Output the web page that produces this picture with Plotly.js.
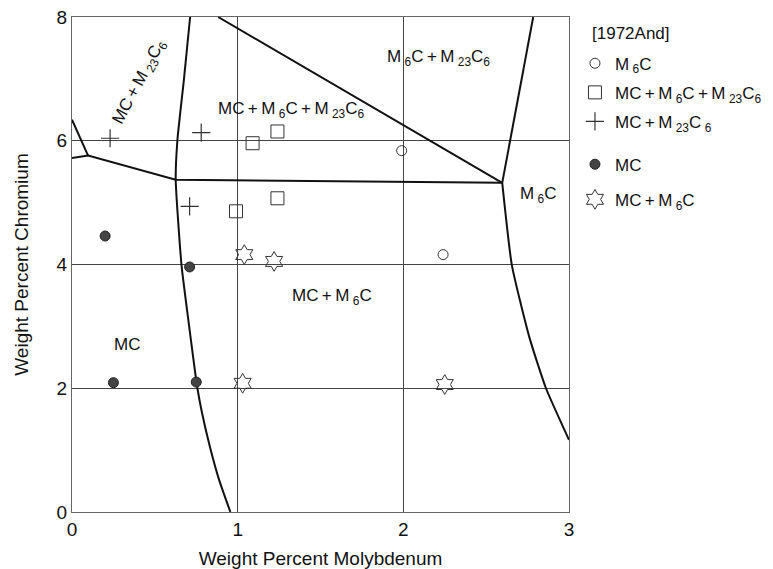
<!DOCTYPE html>
<html>
<head>
<meta charset="utf-8">
<script src="https://cdn.plot.ly/plotly-3.0.1.min.js"></script>
<style>
html,body{margin:0;padding:0;background:#fff;}
#chart{width:773px;height:569px;}
</style>
</head>
<body>
<div id="chart"></div>
<script>
// ---- data (Mo wt%, Cr wt%) ----
const m6cX = [1.99, 2.24];
const m6cY = [5.84, 4.16];
const tripleX = [1.09, 1.24, 0.99, 1.24];
const tripleY = [5.96, 6.15, 4.86, 5.07];
const mcM23X = [0.23, 0.78, 0.71];
const mcM23Y = [6.04, 6.13, 4.94];
const mcX = [0.20, 0.71, 0.25, 0.75];
const mcY = [4.46, 3.96, 2.09, 2.10];
const mcM6X = [1.04, 1.22, 1.03, 2.25];
const mcM6Y = [4.16, 4.05, 2.08, 2.06];

// phase boundaries
const leftCurveX = [0.713, 0.676, 0.636, 0.626, 0.661, 0.700, 0.757, 0.785, 0.832, 0.888, 0.956];
const leftCurveY = [8.0, 7.0, 6.0, 5.37, 3.99, 3.15, 2.0, 1.60, 1.06, 0.52, 0.0];
const midLineX = [0.0, 0.097, 0.626, 2.597];
const midLineY = [5.72, 5.76, 5.37, 5.32];
const cornerLineX = [0.0, 0.097];
const cornerLineY = [6.34, 5.76];
const diagLineX = [0.882, 2.597];
const diagLineY = [8.0, 5.32];
const rightLineX = [2.784, 2.597];
const rightLineY = [8.0, 5.32];
const rightCurveX = [2.597, 2.655, 2.760, 2.861, 3.0];
const rightCurveY = [5.32, 3.99, 2.83, 2.0, 1.166];

// region labels (thin spaces mimic the original's loose lettering)
const regionText = [
  'MC\u2009+\u2009M\u2009<sub>23</sub>C<sub>6</sub>',
  'MC\u2009+\u2009M\u2009<sub>6</sub>C\u2009+\u2009M\u2009<sub>23</sub>C<sub>6</sub>',
  'M\u2009<sub>6</sub>C\u2009+\u2009M\u2009<sub>23</sub>C<sub>6</sub>',
  'M\u2009<sub>6</sub>C',
  'MC\u2009+\u2009M\u2009<sub>6</sub>C',
  'MC'];
const regionX = [0.41, 1.32, 2.21, 2.81, 1.57, 0.33];
const regionY = [6.95, 6.50, 7.33, 5.13, 3.47, 2.70];
const regionAngle = [-62, 0, 0, 0, 0, 0];

const legendTitle = '[1972And]';
const seriesNames = [
  'M\u2009<sub>6</sub>C',
  'MC\u2009+\u2009M\u2009<sub>6</sub>C\u2009+\u2009M\u2009<sub>23</sub>C<sub>6</sub>',
  'MC\u2009+\u2009M\u2009<sub>23</sub>C\u2009<sub>6</sub>',
  'MC',
  'MC\u2009+\u2009M\u2009<sub>6</sub>C'];

const FONT = 'Liberation Sans, Arial, sans-serif';
const lineStyle = {color: '#111', width: 2};
function boundary(x, y, smooth) {
  return {x: x, y: y, mode: 'lines', type: 'scatter',
          line: Object.assign({}, lineStyle, smooth ? {shape: 'spline', smoothing: 0.5} : {}),
          showlegend: false, hoverinfo: 'skip'};
}

const traces = [
  boundary(leftCurveX, leftCurveY, true),
  boundary(midLineX, midLineY, false),
  boundary(cornerLineX, cornerLineY, false),
  boundary(diagLineX, diagLineY, false),
  boundary(rightLineX, rightLineY, false),
  boundary(rightCurveX, rightCurveY, true),
  {x: m6cX, y: m6cY, name: seriesNames[0], mode: 'markers', type: 'scatter', legend: 'legend', legendgroup: 'a',
   marker: {symbol: 'circle-open', size: 10, color: '#333', line: {width: 1}}},
  {x: tripleX, y: tripleY, name: seriesNames[1], mode: 'markers', type: 'scatter', legend: 'legend', legendgroup: 'b',
   marker: {symbol: 'square-open', size: 13, color: '#333', line: {width: 1}}},
  {x: mcM23X, y: mcM23Y, name: seriesNames[2], mode: 'markers', type: 'scatter', legend: 'legend', legendgroup: 'c',
   marker: {symbol: 'cross-thin-open', size: 13, color: '#333', line: {width: 1.2, color: '#333'}}},
  {x: mcX, y: mcY, name: seriesNames[3], mode: 'markers', type: 'scatter', legend: 'legend2', legendgroup: 'd',
   marker: {symbol: 'circle', size: 10, color: '#444', line: {width: 1, color: '#222'}}},
  {x: mcM6X, y: mcM6Y, name: seriesNames[4], mode: 'markers', type: 'scatter', legend: 'legend2', legendgroup: 'e',
   marker: {symbol: 'hexagram-open', size: 15, color: '#333', line: {width: 1}}}
];

const annotations = regionText.map((t, i) => ({
  x: regionX[i], y: regionY[i], xref: 'x', yref: 'y', text: t, showarrow: false,
  textangle: regionAngle[i], font: {family: FONT, size: 17, color: '#111'}
}));
annotations.push({
  x: 1.0, xref: 'paper', xshift: 21, xanchor: 'left', y: 1.0, yref: 'paper', yshift: -16, yanchor: 'middle',
  text: legendTitle, showarrow: false, font: {family: FONT, size: 17, color: '#111'}
});

const legFont = {family: FONT, size: 17, color: '#111'};
const layout = {
  width: 773, height: 569,
  margin: {l: 72, r: 204, t: 17, b: 57, autoexpand: false},
  paper_bgcolor: '#fff', plot_bgcolor: '#fff',
  font: {family: FONT, color: '#111'},
  xaxis: {range: [0, 3], dtick: 1, showgrid: true, gridcolor: '#444', gridwidth: 1,
          zeroline: false, showline: true, linecolor: '#666', linewidth: 1, mirror: true,
          ticks: '', tickfont: {family: FONT, size: 19, color: '#111'},
          title: {text: 'Weight Percent Molybdenum', font: {family: FONT, size: 19, color: '#111'}, standoff: 12}},
  yaxis: {range: [0, 8], dtick: 2, showgrid: true, gridcolor: '#444', gridwidth: 1,
          zeroline: false, showline: true, linecolor: '#666', linewidth: 1, mirror: true,
          ticks: '', tickfont: {family: FONT, size: 19, color: '#111'},
          title: {text: 'Weight Percent Chromium', font: {family: FONT, size: 19, color: '#111'}, standoff: 22}},
  legend: {x: 1.012, xanchor: 'left', y: 0.942, yanchor: 'top', bgcolor: 'rgba(0,0,0,0)',
           font: legFont, tracegroupgap: 4},
  legend2: {x: 1.012, xanchor: 'left', y: 0.738, yanchor: 'top', bgcolor: 'rgba(0,0,0,0)',
            font: legFont, tracegroupgap: 10},
  annotations: annotations,
  showlegend: true
};

Plotly.newPlot('chart', traces, layout, {staticPlot: true, displayModeBar: false});
</script>
</body>
</html>
